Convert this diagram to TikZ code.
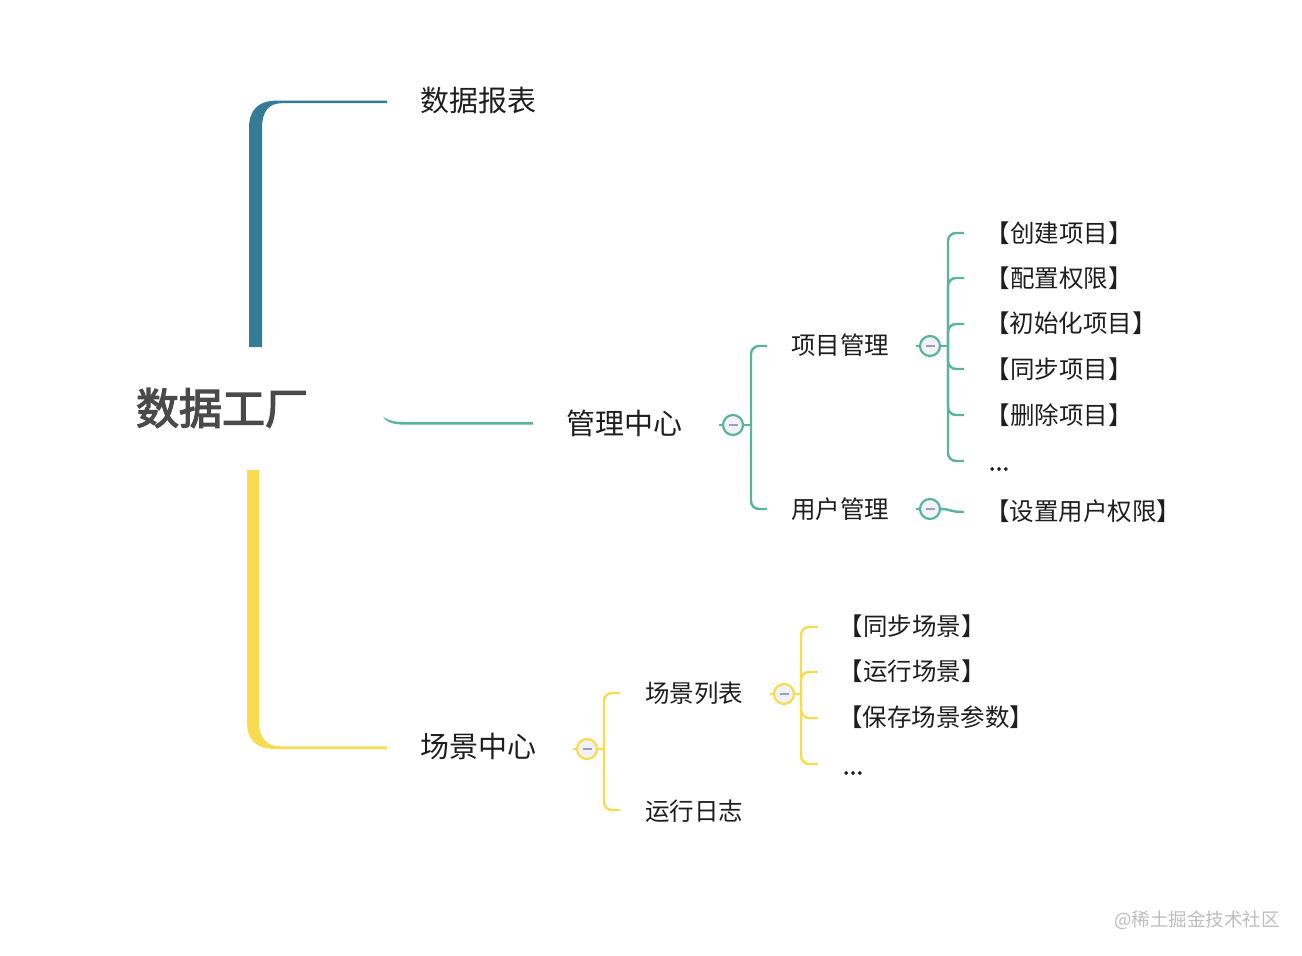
\documentclass[tikz,border=0pt]{standalone}
\usepackage{fontspec}
\setmainfont{Noto Sans CJK SC}
\newfontfamily\rootfont[FakeBold=3]{Noto Sans CJK SC}
\newfontfamily\dotfont[FakeBold=2]{Noto Sans CJK SC}
\definecolor{cblue}{HTML}{347C96}
\definecolor{cteal}{HTML}{5AB49B}
\definecolor{cyel}{HTML}{F8DC4E}
\definecolor{cminus}{HTML}{9C9CC8}
\definecolor{cfill}{HTML}{F2F2F6}
\definecolor{ctext}{HTML}{1E1E1E}
\definecolor{croot}{HTML}{4A4A4A}
\definecolor{cwm}{HTML}{BDBDBD}
\tikzset{
  rootnode/.style={font=\fontsize{43}{50}\rootfont, text=croot, inner sep=0},
  lvone/.style={font=\fontsize{29}{34}\selectfont, text=ctext, inner sep=0},
  lvtwo/.style={font=\fontsize{24.5}{29}\selectfont, text=ctext, inner sep=0},
  leaf/.style={font=\fontsize{24.5}{29}\selectfont, text=ctext, inner sep=0},
  dots/.style={font=\fontsize{24.5}{29}\dotfont, text=ctext, inner sep=0},
  coll/.style={circle, minimum size=20pt, inner sep=0, line width=2.2pt, fill=cfill, draw=#1},
  minusline/.style={cminus, line width=2pt},
  brk/.style={line width=2.4pt, rounded corners=8pt, #1},
}
\newcommand{\collmark}[1]{\draw[minusline] (#1.center) ++(-4.5,0) -- ++(9,0);}
\begin{document}
\begin{tikzpicture}[x=1pt,y=-1pt]
\useasboundingbox (0,0) rectangle (1302,956);

% root
\node[rootnode] (root) at (222,408) {数据工厂};

% main branches
\fill[cblue] (249,347) -- (249,128) .. controls (249,110) and (258,100.5) .. (278,100.5) -- (387,100.5) -- (387,103.2) -- (282,103.2) .. controls (269,103.2) and (262,111) .. (262,128) -- (262,347) -- cycle;
\fill[cteal] (383,416.5) .. controls (389,421) and (395,422) .. (405,422) -- (533,422) -- (533,424.6) -- (405,424.6) .. controls (394,424.6) and (386,422.5) .. (383,416.5) -- cycle;
\fill[cyel] (247,470) -- (247,722) .. controls (247,740) and (256,749) .. (276,749) -- (387,749) -- (387,746.3) -- (280,746.3) .. controls (267,746.3) and (259,738) .. (259,722) -- (259,470) -- cycle;

\node[lvone] (bb) at (478,101) {数据报表};
\node[lvone] (gl) at (624,423) {管理中心};
\node[lvone] (cj) at (478,746) {场景中心};

% ---------- 管理中心 ----------
\node[coll=cteal] (c1) at (733,425) {};
\collmark{c1}
\draw[cteal, line width=2.2pt] (c1.west) -- ++(-3,0);
\coordinate (j1) at (751,425);
\draw[cteal, line width=2.4pt] (c1.east) -- (j1);
\node[lvtwo] (xm) at (840,345) {项目管理};
\node[lvtwo] (yh) at (840,509) {用户管理};
\draw[brk=cteal] (j1) -- (751,346) -- (767,346);
\draw[brk=cteal] (j1) -- (751,509) -- (767,509);

% 项目管理
\node[coll=cteal] (c2) at (930,346) {};
\collmark{c2}
\draw[cteal, line width=2.2pt] (c2.west) -- ++(-3,0);
\coordinate (j2) at (948,346);
\draw[cteal, line width=2.4pt] (c2.east) -- (j2);
\foreach \yy in {233,278,324,369,415,461}{
  \draw[brk=cteal] (j2) -- (948,\yy) -- (964,\yy);
}
\node[leaf] (l1) at (1059,233) {【创建项目】};
\node[leaf] (l2) at (1059,278) {【配置权限】};
\node[leaf] (l3) at (1071,323) {【初始化项目】};
\node[leaf] (l4) at (1059,369) {【同步项目】};
\node[leaf] (l5) at (1059,415) {【删除项目】};
\node[dots] (l6) at (999,469) {...};

% 用户管理
\node[coll=cteal] (c3) at (930,509) {};
\collmark{c3}
\draw[cteal, line width=2.2pt] (c3.west) -- ++(-3,0);
\coordinate (j3) at (964,512);
\draw[cteal, line width=2.4pt] (c3.east) .. controls (950,509) and (950,512) .. (j3);
\node[leaf] (l7) at (1083,511) {【设置用户权限】};

% ---------- 场景中心 ----------
\node[coll=cyel] (c4) at (587,749) {};
\collmark{c4}
\draw[cyel, line width=2.2pt] (c4.west) -- ++(-3,0);
\coordinate (j4) at (604,749);
\draw[cyel, line width=2.4pt] (c4.east) -- (j4);
\draw[brk=cyel] (j4) -- (604,693) -- (620,693);
\draw[brk=cyel] (j4) -- (604,810) -- (620,810);
\node[lvtwo] (cl) at (694,693) {场景列表};
\node[lvtwo] (rz) at (694,811) {运行日志};

\node[coll=cyel] (c5) at (784,694) {};
\collmark{c5}
\draw[cyel, line width=2.2pt] (c5.west) -- ++(-3,0);
\coordinate (j5) at (801,694);
\draw[cyel, line width=2.4pt] (c5.east) -- (j5);
\foreach \yy in {627,672,718,764}{
  \draw[brk=cyel] (j5) -- (801,\yy) -- (818,\yy);
}
\node[leaf] (s1) at (912,626) {【同步场景】};
\node[leaf] (s2) at (912,671) {【运行场景】};
\node[leaf] (s3) at (936,717) {【保存场景参数】};
\node[dots] (s4) at (853,773) {...};

% watermark
\node[font=\fontsize{18.5}{22}\selectfont, text=cwm, inner sep=0] (wm) at (1197,920) {@稀土掘金技术社区};
\end{tikzpicture}
\end{document}
